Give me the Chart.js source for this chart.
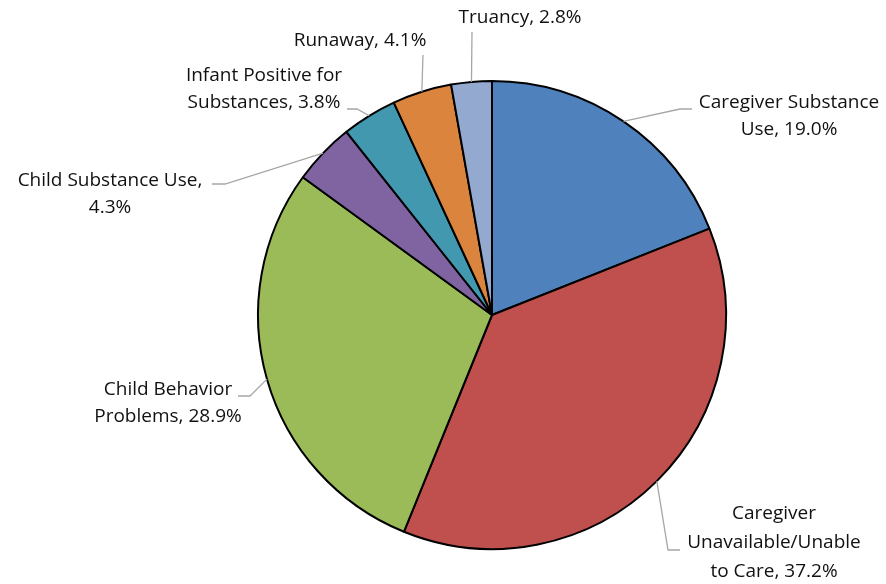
<!DOCTYPE html>
<html>
<head>
<meta charset="utf-8">
<script src="https://cdn.jsdelivr.net/npm/chart.js@4.4.1/dist/chart.umd.min.js"></script>
<style>
  html, body { margin: 0; padding: 0; background: #fff; }
  #wrap { width: 886px; height: 584px; position: relative; }
</style>
</head>
<body>
<div id="wrap"><canvas id="pie"></canvas></div>
<script>
const categories = [
  "Caregiver Substance Use",
  "Caregiver Unavailable/Unable to Care",
  "Child Behavior Problems",
  "Child Substance Use",
  "Infant Positive for Substances",
  "Runaway",
  "Truancy"
];
const percents = [19.0, 37.2, 28.9, 4.3, 3.8, 4.1, 2.8];
const sliceColors = ["#4F81BD", "#C0504D", "#9BBB59", "#8064A2", "#4198AF", "#DB843D", "#93A9CF"];

// how each label is broken into lines (text only)
const labelLines = [
  ["Caregiver Substance", "Use, 19.0%"],
  ["Caregiver", "Unavailable/Unable", "to Care, 37.2%"],
  ["Child Behavior", "Problems, 28.9%"],
  ["Child Substance Use,", "4.3%"],
  ["Infant Positive for", "Substances, 3.8%"],
  ["Runaway, 4.1%"],
  ["Truancy, 2.8%"]
];

// label placement: text center of first line, leader bend + end
const labelPos = [
  { cx: 789, cy: 103, bend: [680, 109], end: [692, 109] },
  { cx: 774, cy: 514, bend: [668, 550], end: [680, 550] },
  { cx: 168, cy: 390, bend: [250, 396], end: [238, 396] },
  { cx: 110, cy: 181, bend: [225, 184], end: [212, 184] },
  { cx: 264, cy: 76,  bend: [357, 109], end: [347, 109] },
  { cx: 360, cy: 41,  bend: null, end: [423, 55] },
  { cx: 520, cy: 18,  bend: null, end: [472, 32] }
];

const leaderLabels = {
  id: "leaderLabels",
  afterDraw(chart) {
    const ctx = chart.ctx;
    const meta = chart.getDatasetMeta(0);
    ctx.save();
    meta.data.forEach((arc, i) => {
      const p = arc.getProps(["x", "y", "startAngle", "endAngle", "outerRadius"], true);
      const mid = (p.startAngle + p.endAngle) / 2;
      const sx = p.x + Math.cos(mid) * p.outerRadius;
      const sy = p.y + Math.sin(mid) * p.outerRadius;
      const pos = labelPos[i];
      ctx.strokeStyle = "#A6A6A6";
      ctx.lineWidth = 1.3;
      ctx.beginPath();
      ctx.moveTo(sx, sy);
      if (pos.bend) ctx.lineTo(pos.bend[0], pos.bend[1]);
      ctx.lineTo(pos.end[0], pos.end[1]);
      ctx.stroke();

      ctx.fillStyle = "#111";
      ctx.font = "19px 'Open Sans'";
      ctx.textAlign = "center";
      ctx.textBaseline = "middle";
      const lines = labelLines[i];
      const gap = lines.length === 3 ? 29 : 27;
      lines.forEach((t, k) => ctx.fillText(t, pos.cx, pos.cy + k * gap));
    });
    ctx.restore();
  }
};

new Chart(document.getElementById("pie"), {
  type: "pie",
  data: {
    labels: categories,
    datasets: [{
      data: percents,
      backgroundColor: sliceColors,
      borderColor: "#000",
      borderWidth: 2
    }]
  },
  options: {
    responsive: true,
    maintainAspectRatio: false,
    animation: false,
    layout: { padding: { left: 257, right: 159, top: 80, bottom: 34 } },
    plugins: {
      legend: { display: false },
      tooltip: { enabled: false }
    }
  },
  plugins: [leaderLabels]
});
</script>
</body>
</html>
